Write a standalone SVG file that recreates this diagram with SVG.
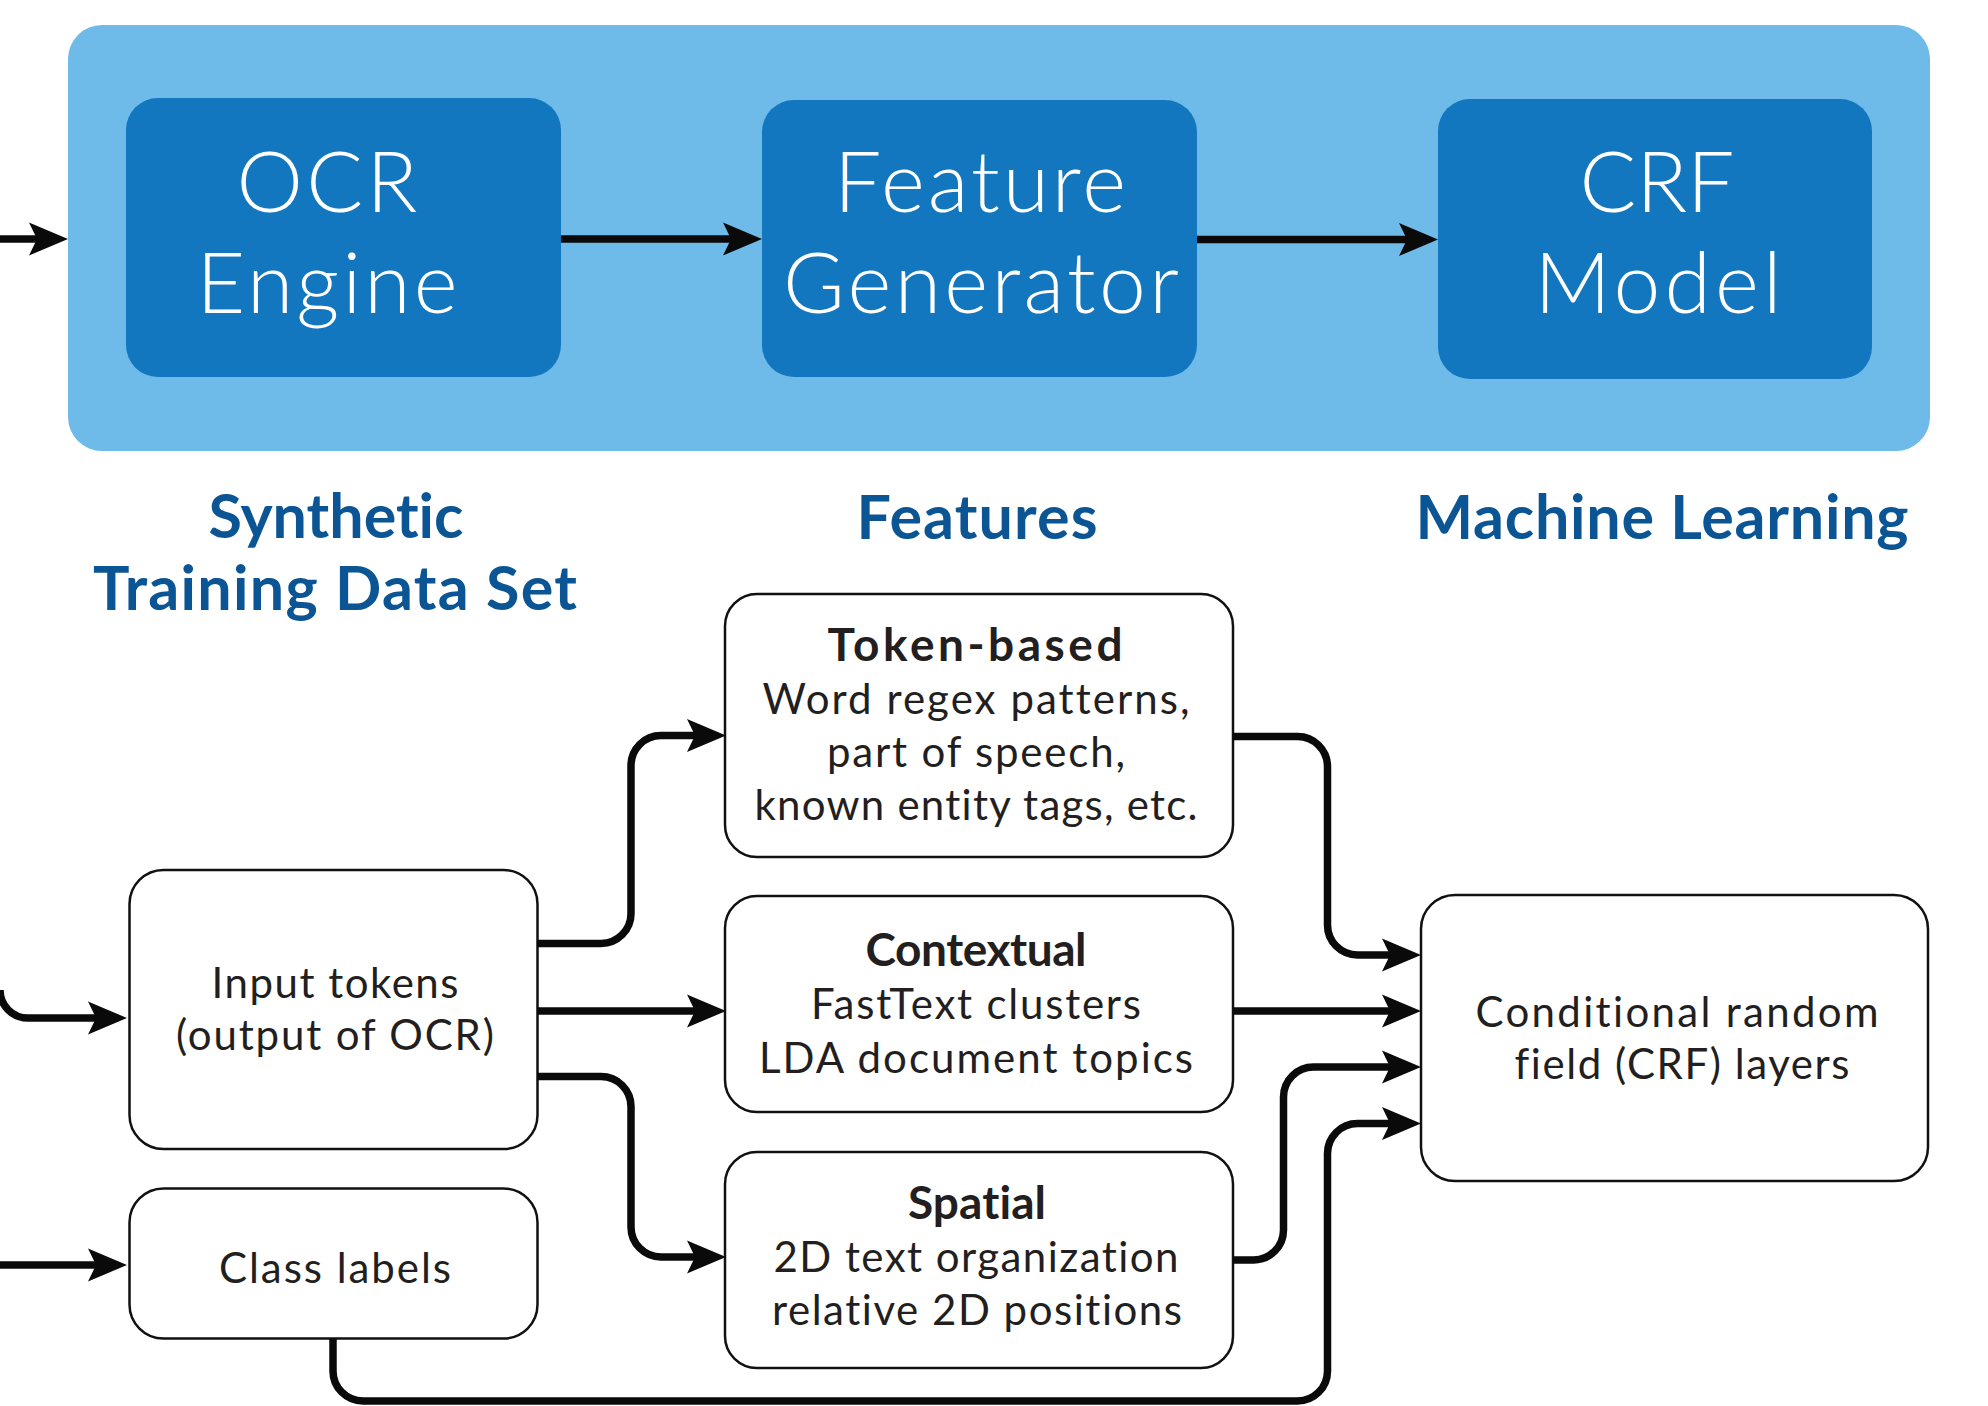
<svg xmlns="http://www.w3.org/2000/svg" width="1988" height="1406" viewBox="0 0 1988 1406">
  <style>
    text { font-family: Lato, "Liberation Sans", sans-serif; font-variant-ligatures: none; text-anchor: middle; }
    .stage { fill: #1277be; }
    .stage-text { fill: #ffffff; font-weight: 300; font-size: 84px; }
    .heading { fill: #0b5595; font-weight: 700; font-size: 61px; }
    .box { fill: #ffffff; stroke: #111111; stroke-width: 2.5; }
    .title { fill: #231f20; font-weight: 700; font-size: 46px; }
    .body { fill: #231f20; font-weight: 400; font-size: 42px; }
    .wire { fill: none; stroke: #0a0a0a; stroke-width: 7.5; }
  </style>
  <defs>
    <marker id="arrow" markerUnits="userSpaceOnUse" markerWidth="40" markerHeight="34" viewBox="0 -17 40 34" refX="8" refY="0" orient="auto">
      <path d="M0,-16.5 L39,0 L0,16.5 L8,0 Z" fill="#0a0a0a"/>
    </marker>
  </defs>

  <!-- pipeline panel -->
  <rect id="pipeline" x="68" y="25" width="1862" height="426" rx="34" ry="34" fill="#6ebae8"/>

  <g id="ocr-engine">
    <rect class="stage" x="126" y="98" width="435" height="279" rx="32" ry="32"/>
    <text class="stage-text" x="327" y="212" textLength="181">OCR</text>
    <text class="stage-text" x="327" y="313" textLength="261">Engine</text>
  </g>
  <g id="feature-generator">
    <rect class="stage" x="762" y="100" width="435" height="277" rx="32" ry="32"/>
    <text class="stage-text" x="980" y="212" textLength="292">Feature</text>
    <text class="stage-text" x="981" y="313" textLength="396">Generator</text>
  </g>
  <g id="crf-model">
    <rect class="stage" x="1438" y="99" width="434" height="280" rx="32" ry="32"/>
    <text class="stage-text" x="1657" y="212" textLength="155">CRF</text>
    <text class="stage-text" x="1658" y="313" textLength="247">Model</text>
  </g>

  <!-- section headings -->
  <g id="headings">
    <text class="heading" x="336" y="538" textLength="255">Synthetic</text>
    <text class="heading" x="335" y="610" textLength="484">Training Data Set</text>
    <text class="heading" x="977" y="539" textLength="241">Features</text>
    <text class="heading" x="1662" y="539" textLength="493">Machine Learning</text>
  </g>

  <g id="input-tokens">
    <rect class="box" x="129.5" y="870" width="408" height="279" rx="34" ry="34"/>
    <text class="body" x="335" y="998" textLength="247">Input tokens</text>
    <text class="body" x="335" y="1050" textLength="318">(output of OCR)</text>
  </g>
  <g id="class-labels">
    <rect class="box" x="129.5" y="1188.5" width="408" height="150" rx="34" ry="34"/>
    <text class="body" x="335" y="1283" textLength="232">Class labels</text>
  </g>
  <g id="token-based">
    <rect class="box" x="725" y="594" width="508" height="263" rx="32" ry="32"/>
    <text class="title" x="975" y="661" textLength="295">Token-based</text>
    <text class="body" x="976" y="714" textLength="427">Word regex patterns,</text>
    <text class="body" x="976" y="767" textLength="298">part of speech,</text>
    <text class="body" x="976" y="820" textLength="443">known entity tags, etc.</text>
  </g>
  <g id="contextual">
    <rect class="box" x="725" y="896" width="508" height="216" rx="32" ry="32"/>
    <text class="title" x="976" y="966" textLength="221">Contextual</text>
    <text class="body" x="976" y="1019" textLength="330">FastText clusters</text>
    <text class="body" x="976" y="1073" textLength="434">LDA document topics</text>
  </g>
  <g id="spatial">
    <rect class="box" x="725" y="1152" width="508" height="216" rx="32" ry="32"/>
    <text class="title" x="977" y="1219" textLength="138">Spatial</text>
    <text class="body" x="976" y="1272" textLength="405">2D text organization</text>
    <text class="body" x="977" y="1325" textLength="410">relative 2D positions</text>
  </g>
  <g id="crf-layers">
    <rect class="box" x="1421" y="895" width="507" height="286" rx="34" ry="34"/>
    <text class="body" x="1677" y="1027" textLength="403">Conditional random</text>
    <text class="body" x="1682" y="1079" textLength="335">field (CRF) layers</text>
  </g>

  <!-- connectors -->
  <g id="connectors">
    <path class="wire" marker-end="url(#arrow)" d="M0,239 H37"/>
    <path class="wire" marker-end="url(#arrow)" d="M561,239 H731"/>
    <path class="wire" marker-end="url(#arrow)" d="M1197,239.5 H1407"/>

    <path class="wire" marker-end="url(#arrow)" d="M0,990 A28,28 0 0 0 28,1018 H96"/>
    <path class="wire" marker-end="url(#arrow)" d="M0,1265 H96"/>

    <path class="wire" marker-end="url(#arrow)" d="M537.5,943.5 H601 A30,30 0 0 0 631,913.5 V765.5 A30,30 0 0 1 661,735.5 H695"/>
    <path class="wire" marker-end="url(#arrow)" d="M537.5,1011 H695"/>
    <path class="wire" marker-end="url(#arrow)" d="M537.5,1076.5 H601 A30,30 0 0 1 631,1106.5 V1227 A30,30 0 0 0 661,1257 H695"/>

    <path class="wire" marker-end="url(#arrow)" d="M1233,736.5 H1297.5 A30,30 0 0 1 1327.5,766.5 V925 A30,30 0 0 0 1357.5,955 H1390"/>
    <path class="wire" marker-end="url(#arrow)" d="M1233,1011 H1390"/>
    <path class="wire" marker-end="url(#arrow)" d="M1233,1260 H1253.5 A30,30 0 0 0 1283.5,1230 V1097 A30,30 0 0 1 1313.5,1067 H1390"/>
    <path class="wire" marker-end="url(#arrow)" d="M333,1339 V1371 A30,30 0 0 0 363,1401 H1297.5 A30,30 0 0 0 1327.5,1371 V1153.5 A30,30 0 0 1 1357.5,1123.5 H1390"/>
  </g>
</svg>
